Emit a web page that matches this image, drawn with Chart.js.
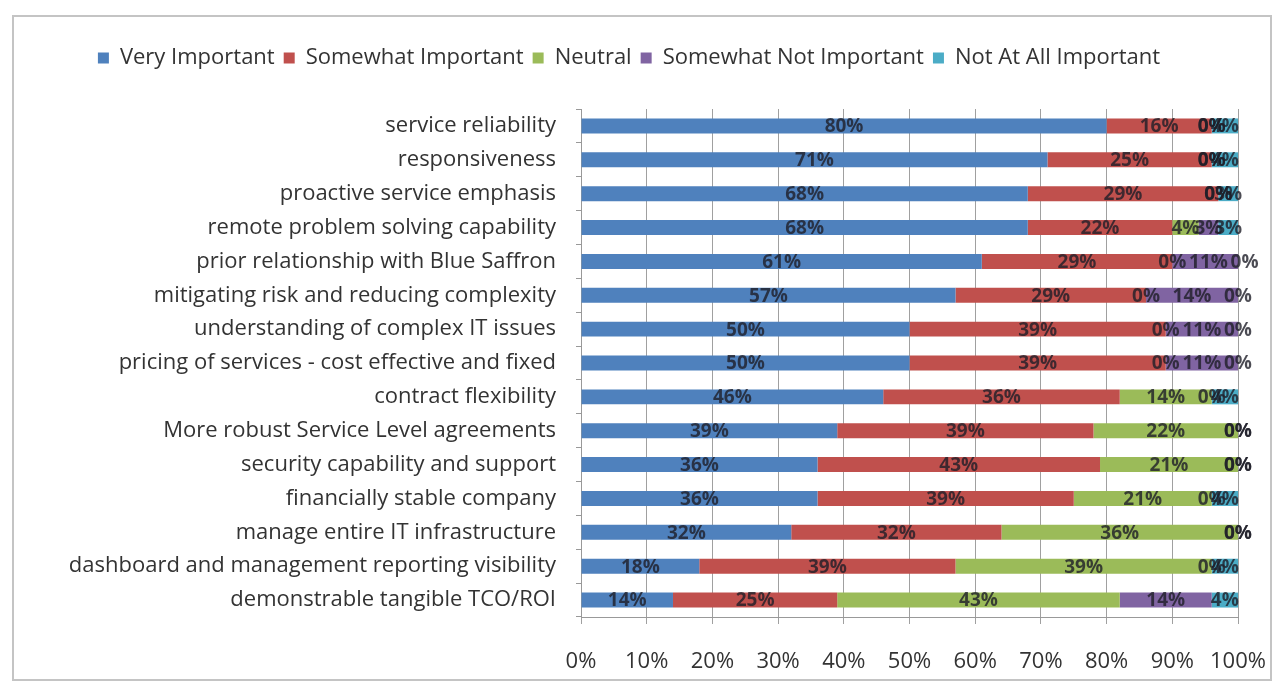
<!DOCTYPE html>
<html lang="en">
<head>
  <meta charset="UTF-8" />
  <title>Importance of service attributes</title>
  <style>
    html, body { margin: 0; padding: 0; background: #fff; }
    #wrap { position: relative; width: 1285px; height: 693px; }
    canvas { display: block; }
  </style>
</head>
<body>
  <div id="wrap"><canvas id="chart" width="1285" height="693"></canvas></div>

  <script src="https://cdn.jsdelivr.net/npm/chart.js"></script>
  <script>
    const categories = [
      'service reliability',
      'responsiveness',
      'proactive service emphasis',
      'remote problem solving capability',
      'prior relationship with Blue Saffron',
      'mitigating risk and reducing complexity',
      'understanding of complex IT issues',
      'pricing of services - cost effective and fixed',
      'contract flexibility',
      'More robust Service Level agreements',
      'security capability and support',
      'financially stable company',
      'manage entire IT infrastructure',
      'dashboard and management reporting visibility',
      'demonstrable tangible TCO/ROI'
    ];
    const veryImportant     = [80, 71, 68, 68, 61, 57, 50, 50, 46, 39, 36, 36, 32, 18, 14];
    const somewhatImportant = [16, 25, 29, 22, 29, 29, 39, 39, 36, 39, 43, 39, 32, 39, 25];
    const neutral           = [ 0,  0,  0,  4,  0,  0,  0,  0, 14, 22, 21, 21, 36, 39, 43];
    const somewhatNot       = [ 0,  0,  0,  3, 11, 14, 11, 11,  0,  0,  0,  0,  0,  0, 14];
    const notAtAll          = [ 4,  4,  3,  3,  0,  0,  0,  0,  4,  0,  0,  4,  0,  4,  4];
    const xTicks = [0, 10, 20, 30, 40, 50, 60, 70, 80, 90, 100];

    const FONT = '"Open Sans", "Noto Sans", sans-serif';

    // frame around the whole chart
    const framePlugin = {
      id: 'frame',
      beforeDraw(chart) {
        const c = chart.ctx;
        c.save();
        c.strokeStyle = '#c4c4c4';
        c.lineWidth = 2;
        c.strokeRect(13, 16, 1258, 664);
        c.restore();
      }
    };

    // extra gap below the legend
    const legendGap = {
      id: 'legendGap',
      beforeInit(chart) {
        const fit = chart.legend.fit;
        chart.legend.fit = function () {
          fit.bind(chart.legend)();
          this.height += 30;
        };
      }
    };

    // percentage text centred in every segment
    const segLabels = {
      id: 'segLabels',
      afterDatasetsDraw(chart) {
        const c = chart.ctx;
        c.save();
        c.font = 'bold 19px ' + FONT;
        c.textAlign = 'center';
        c.textBaseline = 'middle';
        c.fillStyle = 'rgba(30,30,40,0.8)';
        chart.data.datasets.forEach((ds, di) => {
          const meta = chart.getDatasetMeta(di);
          meta.data.forEach((bar, i) => {
            const v = ds.data[i];
            const p = bar.getProps(['x', 'y', 'base'], true);
            c.fillText(v + '%', (p.x + p.base) / 2, p.y + 1);
          });
        });
        c.restore();
      }
    };

    const colors = ['#4F81BD', '#C0504D', '#9BBB59', '#8064A2', '#4BACC6'];
    const names = ['Very Important', 'Somewhat Important', 'Neutral', 'Somewhat Not Important', 'Not At All Important'];
    const series = [veryImportant, somewhatImportant, neutral, somewhatNot, notAtAll];

    new Chart(document.getElementById('chart'), {
      type: 'bar',
      data: {
        labels: categories,
        datasets: series.map((d, i) => ({
          label: names[i],
          data: d,
          backgroundColor: colors[i],
          borderWidth: 0,
          barPercentage: 0.94,
          categoryPercentage: 0.47
        }))
      },
      plugins: [framePlugin, legendGap, segLabels],
      options: {
        indexAxis: 'y',
        responsive: false,
        animation: false,
        layout: { padding: { left: 20, right: 47, top: 38, bottom: 10 } },
        plugins: {
          tooltip: { enabled: false },
          legend: {
            position: 'top',
            labels: {
              boxWidth: 11,
              boxHeight: 11,
              padding: 9,
              color: '#333',
              font: { family: FONT, size: 22 }
            }
          }
        },
        scales: {
          x: {
            stacked: true,
            min: 0,
            max: 100,
            afterBuildTicks(scale) { scale.ticks = xTicks.map(v => ({ value: v })); },
            afterFit(scale) {
              scale.height = 66;
              scale.paddingLeft = 0;
              scale.paddingRight = 0;
            },
            border: { color: '#999', width: 1 },
            grid: { color: '#a0a0a0', lineWidth: 1, tickLength: 7 },
            ticks: {
              padding: 25,
              color: '#333',
              font: { family: FONT, size: 22 },
              callback: v => v + '%'
            }
          },
          y: {
            stacked: true,
            afterFit(scale) { scale.width = 561; },
            border: { color: '#999', width: 1 },
            grid: { drawOnChartArea: false, color: '#999', tickLength: 5 },
            ticks: {
              padding: 20,
              color: '#333',
              font: { family: FONT, size: 22 }
            }
          }
        }
      }
    });
  </script>
</body>
</html>
